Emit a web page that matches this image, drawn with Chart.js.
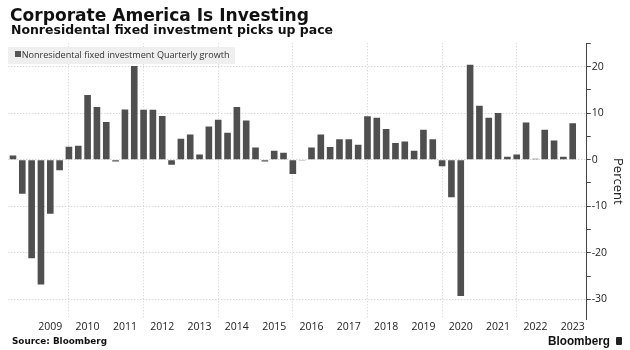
<!DOCTYPE html>
<html>
<head>
<meta charset="utf-8">
<script src="https://cdn.jsdelivr.net/npm/chart.js@4/dist/chart.umd.min.js"></script>
<style>
  html, body { margin: 0; padding: 0; background: #fff; }
  #wrap { position: relative; width: 630px; height: 350px; overflow: hidden; background: #fff; }
  canvas { position: absolute; left: 0; top: 0; }
  .t { position: absolute; white-space: nowrap; line-height: 1; color: #111; transform-origin: 0 50%; }
  #title { font-family: "DejaVu Sans", sans-serif; font-weight: bold; font-size: 18px; left: 10px; }
  #subtitle { font-family: "DejaVu Sans", sans-serif; font-weight: bold; font-size: 11.8px; left: 11px; }
  #source { font-family: "DejaVu Sans", sans-serif; font-weight: bold; font-size: 9px; left: 12px; }
  #brand { font-family: "Liberation Sans", sans-serif; font-weight: bold; font-size: 13.5px; left: 548px; color: #111; }
  #icon { position: absolute; left: 615.5px; top: 336.5px; width: 6.5px; height: 8px; background: #222; border-radius: 1px; }
  #legendBox { position: absolute; left: 8.3px; top: 46.5px; width: 226.7px; height: 17.5px; background: #efefef; }
  #legendMark { position: absolute; left: 15px; top: 51px; width: 5.7px; height: 5.7px; background: #555; }
  #legendText { font-family: "Open Sans", sans-serif; font-size: 10px; left: 21.7px; color: #333; }
</style>
</head>
<body>
<div id="wrap">
  <canvas id="c" width="630" height="350"></canvas>
  <div class="t" id="title" data-w="299" data-cy="15" data-mode="scale">Corporate America Is Investing</div>
  <div class="t" id="subtitle" data-w="322" data-cy="31" data-mode="scale">Nonresidental fixed investment picks up pace</div>
  <div id="legendBox"></div>
  <div id="legendMark"></div>
  <div class="t" id="legendText" data-w="208" data-cy="54">Nonresidental fixed investment Quarterly growth</div>
  <div class="t" id="source" data-w="95" data-cy="341.3">Source: Bloomberg</div>
  <div class="t" id="brand" data-w="62" data-cy="341" data-mode="scale">Bloomberg</div>
  <div id="icon"></div>
</div>
<script>
// ---- data ----
const quarters = [
  '2008Q2','2008Q3','2008Q4',
  '2009Q1','2009Q2','2009Q3','2009Q4',
  '2010Q1','2010Q2','2010Q3','2010Q4',
  '2011Q1','2011Q2','2011Q3','2011Q4',
  '2012Q1','2012Q2','2012Q3','2012Q4',
  '2013Q1','2013Q2','2013Q3','2013Q4',
  '2014Q1','2014Q2','2014Q3','2014Q4',
  '2015Q1','2015Q2','2015Q3','2015Q4',
  '2016Q1','2016Q2','2016Q3','2016Q4',
  '2017Q1','2017Q2','2017Q3','2017Q4',
  '2018Q1','2018Q2','2018Q3','2018Q4',
  '2019Q1','2019Q2','2019Q3','2019Q4',
  '2020Q1','2020Q2','2020Q3','2020Q4',
  '2021Q1','2021Q2','2021Q3','2021Q4',
  '2022Q1','2022Q2','2022Q3','2022Q4',
  '2023Q1','2023Q2','2023Q3'
];
const growth = [
  0.9, -7.3, -21.2,
  -26.8, -11.6, -2.3, 2.8,
  3.0, 13.9, 11.3, 8.1,
  -0.4, 10.8, 20.1, 10.7,
  10.7, 9.4, -1.1, 4.5,
  5.4, 1.1, 7.1, 8.6,
  5.8, 11.3, 8.4, 2.6,
  -0.4, 1.9, 1.5, -3.1,
  -0.2, 2.6, 5.4, 2.7,
  4.4, 4.4, 3.2, 9.3,
  9.0, 6.6, 3.6, 3.9,
  1.9, 6.4, 4.4, -1.4,
  -8.1, -29.3, 20.4, 11.6,
  9.0, 10.0, 0.6, 1.1,
  8.0, 0.2, 6.4, 4.1,
  0.6, 7.8, null
];
const yearLabels = ['2009','2010','2011','2012','2013','2014','2015','2016','2017','2018','2019','2020','2021','2022','2023'];
const xGridQuarters = ['2009Q4','2011Q4','2013Q4','2015Q4','2017Q4','2019Q4','2021Q4'];
const yTickValues = [-30,-25,-20,-15,-10,-5,0,5,10,15,20,25];
const yLabelValues = [-30,-20,-10,0,10,20];
const seriesName = 'Nonresidental fixed investment Quarterly growth';

// ---- text fitting ----
document.querySelectorAll('[data-w]').forEach(el => {
  const tw = +el.dataset.w, cy = +el.dataset.cy;
  let fs = parseFloat(getComputedStyle(el).fontSize);
  const w = el.getBoundingClientRect().width;
  if (el.dataset.mode === 'scale') {
    el.style.transform = 'scaleX(' + (tw / w) + ')';
  } else {
    fs = fs * tw / w;
    el.style.fontSize = fs + 'px';
  }
  el.style.top = (cy - 0.485 * fs) + 'px';
});

// ---- chart ----
const tickFont = { family: '"Open Sans", sans-serif', size: 10.5 };
new Chart(document.getElementById('c'), {
  type: 'bar',
  data: {
    labels: quarters,
    datasets: [{
      label: seriesName,
      data: growth,
      backgroundColor: '#4f4f4f',
      borderWidth: 0,
      categoryPercentage: 1,
      barPercentage: 0.71
    }]
  },
  options: {
    responsive: false,
    animation: false,
    devicePixelRatio: 1,
    layout: { padding: { left: 8.3, top: 43.3, right: 0, bottom: 0 } },
    plugins: { legend: { display: false }, tooltip: { enabled: false }, title: { display: false } },
    scales: {
      x: {
        type: 'category',
        offset: true,
        afterFit: s => { s.height = 30.7; },
        grid: {
          offset: false,
          drawTicks: false,
          lineWidth: 1,
          color: ctx => (ctx.tick && xGridQuarters.includes(quarters[ctx.index])) ? '#cfcfcf' : 'rgba(0,0,0,0)'
        },
        border: { display: false, dash: [1, 2] },
        ticks: {
          autoSkip: false,
          maxRotation: 0,
          minRotation: 0,
          padding: 1,
          color: '#222',
          font: tickFont,
          callback: function(v, i) {
            const q = quarters[i];
            if (q && q.endsWith('Q2') && yearLabels.includes(q.slice(0, 4))) return q.slice(0, 4);
            return '';
          }
        }
      },
      y: {
        position: 'right',
        min: -34.3,
        max: 25,
        afterBuildTicks: s => { s.ticks = yTickValues.map(v => ({ value: v })); },
        afterFit: s => { s.width = 43.3; },
        grid: {
          lineWidth: 1,
          color: ctx => (ctx.tick && yLabelValues.includes(ctx.tick.value)) ? '#c4c4c4' : 'rgba(0,0,0,0)',
          tickColor: '#444',
          tickLength: 4,
          drawTicks: true
        },
        border: { display: true, color: '#444', width: 1, dash: [1, 2] },
        ticks: {
          padding: 1,
          color: '#222',
          font: tickFont,
          callback: v => yLabelValues.includes(v) ? String(v) : ''
        },
        title: {
          display: true,
          text: 'Percent',
          color: '#222',
          font: { family: '"Open Sans", sans-serif', size: 13 },
          padding: { top: 4, bottom: 0 }
        }
      }
    }
  }
});
</script>
</body>
</html>
